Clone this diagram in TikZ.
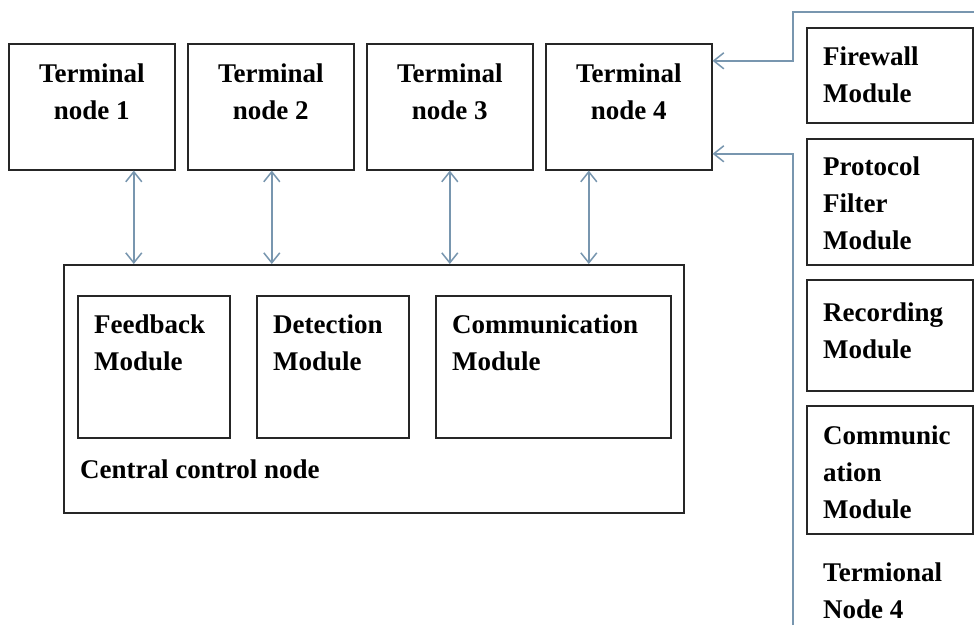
\documentclass[tikz,border=0pt]{standalone}
\usepackage{fontspec}
\setmainfont{Liberation Serif}
\usetikzlibrary{arrows.meta,positioning}
\definecolor{linkblue}{RGB}{120,150,175}
\tikzset{
box/.style={draw=black!85,line width=1.6pt,rectangle,inner sep=0pt,anchor=north west},
txt/.style={font=\bfseries\fontsize{27}{37}\selectfont,inner sep=0pt,align=left,anchor=north west},
link/.style={draw=linkblue,line width=1.5pt},
tip/.tip={Straight Barb[length=10pt,width=16pt,line width=1.5pt]}
}
\begin{document}
\begin{tikzpicture}[x=1pt,y=-1pt]
\useasboundingbox (0,0) rectangle (974,625);

%%%Terminal nodes
\foreach \n/\x in {1/8,2/187,3/366,4/545} \node[box,minimum width=166pt,minimum height=126pt] (term\n) at (\x,43) {};
\foreach \n in {1,...,4} \node[txt,align=center,anchor=north] (termtxt\n) at ([yshift=-21pt]term\n.north) {Terminal\\node \n};

%%%Central control node and its modules
\node[box,minimum width=620pt,minimum height=248pt] (central) at (63,264) {};
\foreach \m/\x/\w in {feed/77/152,detect/256/152,comm/435/235} \node[box,minimum width=\w pt,minimum height=142pt] (\m) at (\x,295) {};
\node[txt] (feedtxt) at ([xshift=17pt,yshift=-20pt]feed.north west) {Feedback\\Module};
\node[txt] (detecttxt) at ([xshift=17pt,yshift=-20pt]detect.north west) {Detection\\Module};
\node[txt] (commtxt) at ([xshift=17pt,yshift=-20pt]comm.north west) {Communication\\Module};
\node[txt] (centraltxt) at (80,460) {Central control node};

%%%Links between terminal nodes and central node
\foreach \n/\d in {1/42,2/1,3/0,4/-40} \draw[link,tip-tip] ([xshift=\d pt]term\n.south) -- ([xshift=\d pt]term\n.south |- central.north);

%%%Module column on the right
\node[box,minimum width=166pt,minimum height=95pt] (firewall) at (806,27) {};
\node[box,minimum width=166pt,minimum height=126pt] (protocol) at (806,138) {};
\node[box,minimum width=166pt,minimum height=111pt] (record) at (806,279) {};
\node[box,minimum width=166pt,minimum height=128pt] (commside) at (806,405) {};
\node[txt] (firewalltxt) at ([xshift=17pt,yshift=-20pt]firewall.north west) {Firewall\\Module};
\node[txt] (protocoltxt) at ([xshift=17pt,yshift=-19pt]protocol.north west) {Protocol\\Filter\\Module};
\node[txt] (recordtxt) at ([xshift=17pt,yshift=-24pt]record.north west) {Recording\\Module};
\node[txt] (commsidetxt) at ([xshift=17pt,yshift=-21pt]commside.north west) {Communic\\ation\\Module};
\node[txt] (termsidetxt) at (823,563) {Termional\\Node 4};

%%%Links from the column into terminal node 4
\coordinate (bustop) at (974,12);
\coordinate (busbend) at (793,12);
\coordinate (busbot) at (793,625);
\draw[link,-tip] (bustop) -- (busbend) |- ([yshift=46pt]term4.east);
\draw[link,-tip] (busbot) |- ([yshift=-47pt]term4.east);

\end{tikzpicture}
\end{document}
